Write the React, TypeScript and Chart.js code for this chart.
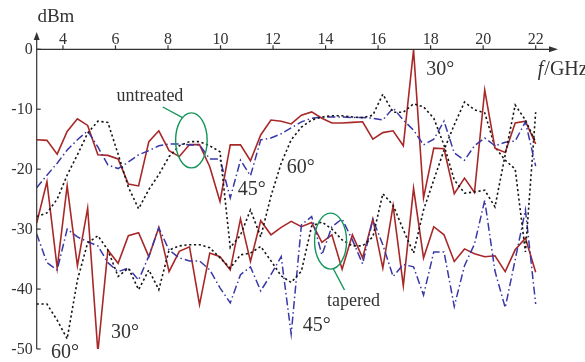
import React, { useEffect, useRef } from "react";
import { Chart, registerables } from "chart.js";

Chart.register(...registerables);

// Frequency grid (GHz)
const freqGHz = [
  3.0, 3.39, 3.78, 4.16, 4.55, 4.94, 5.33, 5.71, 6.1, 6.49,
  6.88, 7.27, 7.65, 8.04, 8.43, 8.82, 9.2, 9.59, 9.98, 10.37,
  10.76, 11.14, 11.53, 11.92, 12.31, 12.69, 13.08, 13.47, 13.86, 14.24,
  14.63, 15.02, 15.41, 15.8, 16.18, 16.57, 16.96, 17.35, 17.73, 18.12,
  18.51, 18.9, 19.29, 19.67, 20.06, 20.45, 20.84, 21.22, 21.61, 22.0,
];

// Untreated (upper group), dBm
const untreated30 = [
  -15.1, -15.2, -17.5, -13.7, -11.6, -12.7, -17.6, -17.7, -18.3, -22.5,
  -22.8, -15.4, -13.6, -16.9, -17.9, -15.9, -15.9, -19.6, -25.4, -15.95,
  -15.95, -18.6, -14.3, -11.8, -12.0, -12.45, -11.0, -10.45, -11.5, -12.3,
  -12.3, -12.2, -12.1, -15.0, -13.9, -13.6, -16.1, -0.1, -24.8, -16.5,
  -16.6, -24.1, -21.5, -23.9, -6.8, -16.5, -17.2, -12.3, -12.0, -15.8,
];
const untreated45 = [
  -23.1, -21.0, -19.0, -16.8, -15.1, -13.6, -16.3, -19.3, -19.9, -18.8,
  -17.6, -16.9, -16.1, -15.8, -15.8, -15.95, -15.95, -18.3, -18.3, -24.8,
  -18.5, -21.1, -15.1, -14.8, -14.1, -13.1, -12.1, -11.5, -11.3, -11.3,
  -11.3, -11.4, -11.4, -11.5, -11.8, -9.8, -11.8, -13.5, -15.95, -15.0,
  -12.0, -17.3, -18.5, -16.1, -14.8, -16.1, -15.5, -15.3, -12.1, -19.5,
];
const untreated60 = [
  -27.9, -27.3, -25.0, -21.0, -17.6, -14.0, -12.0, -12.2, -17.5, -23.0,
  -26.6, -23.4, -20.9, -17.9, -16.1, -15.4, -15.4, -16.1, -17.1, -33.1,
  -31.0, -26.8, -31.3, -24.5, -19.0, -15.1, -13.0, -11.8, -11.3, -11.1,
  -11.1, -11.3, -11.4, -11.0, -7.5, -10.5, -10.5, -9.1, -9.6, -11.5,
  -16.0, -21.8, -24.0, -23.8, -23.5, -26.3, -17.6, -9.3, -11.8, -15.5,
];

// Tapered (lower group), dBm
const tapered30 = [
  -29.0, -22.1, -36.5, -22.8, -36.1, -26.5, -50.5, -33.5, -35.7, -31.1,
  -30.6, -34.6, -29.7, -37.1, -33.7, -32.95, -42.6, -34.0, -34.6, -36.8,
  -28.3, -35.4, -28.6, -30.95, -29.7, -28.7, -29.6, -28.9, -32.2, -30.95,
  -36.7, -30.95, -34.8, -28.3, -36.5, -26.1, -39.45, -23.2, -34.8, -29.6,
  -30.95, -35.4, -33.3, -34.1, -34.6, -34.45, -37.1, -33.45, -31.5, -37.2,
];
const tapered45 = [
  -30.8, -35.6, -36.8, -30.0, -31.3, -32.1, -32.8, -35.6, -37.1, -36.5,
  -38.5, -34.5, -29.8, -33.5, -34.8, -35.3, -35.3, -36.8, -39.8, -42.3,
  -37.6, -36.3, -40.3, -37.6, -34.6, -47.5, -29.3, -27.9, -34.3, -29.6,
  -28.3, -31.8, -35.8, -28.4, -32.6, -37.9, -35.9, -36.3, -41.0, -33.8,
  -33.8, -42.9, -36.1, -32.5, -25.2, -37.0, -43.1, -35.1, -26.8, -42.5,
];
const tapered60 = [
  -42.5, -42.5, -45.2, -48.3, -38.5, -32.3, -31.1, -33.5, -37.9, -36.5,
  -40.1, -36.8, -40.1, -33.5, -32.8, -32.6, -32.6, -33.1, -34.8, -36.5,
  -34.3, -34.0, -32.9, -35.3, -37.8, -38.9, -37.0, -29.5, -28.8, -30.0,
  -31.8, -32.8, -32.8, -31.3, -24.1, -26.0, -30.1, -34.0, -26.8, -21.8,
  -16.8, -12.6, -8.8, -10.1, -10.6, -16.3, -18.5, -20.0, -33.8, -10.5,
];

// Axis ticks
const xTicks = [4, 6, 8, 10, 12, 14, 16, 18, 20, 22];
const yTicks = [0, -10, -20, -30, -40, -50];
const xMin = 3;
const xMax = 22.85;
const yMin = -50;
const yMax = 2.9;

// Annotation texts (in data coordinates)
const labelTexts = ["dBm", "untreated", "45°", "60°", "30°", "tapered", "45°", "30°", "60°"];
const labelF = [3.73, 7.31, 11.19, 13.05, 18.37, 15.06, 13.66, 6.36, 4.08];
const labelDb = [5.4, -7.8, -23.5, -19.8, -3.45, -42.0, -46.2, -47.3, -50.7];
const labelSize = [19, 18, 20, 20, 20, 18, 20, 20, 20];

// Green call-out ellipses: center f, center dB, half-width (GHz), half-height (dB)
const ellipseF = [8.89, 14.19];
const ellipseDb = [-15.2, -32.0];
const ellipseRf = [0.6, 0.61];
const ellipseRdb = [4.59, 4.67];
// Call-out leader lines
const leaderF1 = [7.8, 14.3];
const leaderDb1 = [-9.63, -36.66];
const leaderF2 = [8.57, 14.72];
const leaderDb2 = [-11.46, -40.16];

const SERIF = "'Liberation Serif', 'Times New Roman', serif";
const AXIS = "#333";

const decorPlugin = {
  id: "decor",
  afterDatasetsDraw(chart: any) {
    const ctx = chart.ctx as CanvasRenderingContext2D;
    const xs = chart.scales.x;
    const ys = chart.scales.y;
    const px = (v: number) => xs.getPixelForValue(v);
    const py = (v: number) => ys.getPixelForValue(v);
    ctx.save();
    ctx.strokeStyle = AXIS;
    ctx.fillStyle = AXIS;
    ctx.lineWidth = 1.2;
    const x0 = px(xMin);
    const y0 = py(0);
    const xEnd = px(xMax);
    const yTop = py(yMax);
    const yBot = py(yMin);
    // y axis
    ctx.beginPath();
    ctx.moveTo(x0, yBot);
    ctx.lineTo(x0, yTop + 6);
    ctx.stroke();
    ctx.beginPath();
    ctx.moveTo(x0, yTop);
    ctx.lineTo(x0 - 3, yTop + 8);
    ctx.lineTo(x0 + 3, yTop + 8);
    ctx.closePath();
    ctx.fill();
    // x axis (at 0 dBm, on top)
    ctx.beginPath();
    ctx.moveTo(x0, y0);
    ctx.lineTo(xEnd - 6, y0);
    ctx.stroke();
    ctx.beginPath();
    ctx.moveTo(xEnd, y0);
    ctx.lineTo(xEnd - 9, y0 - 3);
    ctx.lineTo(xEnd - 9, y0 + 3);
    ctx.closePath();
    ctx.fill();
    // x ticks and labels
    ctx.font = `16px ${SERIF}`;
    ctx.textAlign = "center";
    ctx.textBaseline = "alphabetic";
    xTicks.forEach((t) => {
      const x = px(t);
      ctx.beginPath();
      ctx.moveTo(x, y0);
      ctx.lineTo(x, y0 - 4);
      ctx.stroke();
      ctx.fillText(String(t), x, y0 - 5);
    });
    // y ticks and labels
    ctx.textAlign = "right";
    ctx.textBaseline = "middle";
    yTicks.forEach((t) => {
      const y = py(t);
      ctx.beginPath();
      ctx.moveTo(x0, y);
      ctx.lineTo(x0 + 4, y);
      ctx.stroke();
      ctx.fillText(String(t), x0 - 4, y + 1);
    });
    // f/GHz
    ctx.textAlign = "left";
    ctx.textBaseline = "middle";
    const fx = px(22.08);
    const fy = py(-3.45);
    ctx.font = `italic 20px ${SERIF}`;
    ctx.fillText("f", fx, fy);
    const fw = ctx.measureText("f").width;
    ctx.font = `20px ${SERIF}`;
    ctx.fillText("/GHz", fx + fw + 1, fy);
    // other labels
    ctx.textAlign = "center";
    labelTexts.forEach((t, i) => {
      ctx.font = `${labelSize[i]}px ${SERIF}`;
      ctx.fillText(t, px(labelF[i]), py(labelDb[i]));
    });
    // green call-outs
    ctx.strokeStyle = "#14965a";
    ctx.lineWidth = 1.4;
    ellipseF.forEach((f, i) => {
      const cx = px(f);
      const cy = py(ellipseDb[i]);
      const rx = Math.abs(px(f + ellipseRf[i]) - cx);
      const ry = Math.abs(py(ellipseDb[i] + ellipseRdb[i]) - cy);
      ctx.beginPath();
      ctx.ellipse(cx, cy, rx, ry, 0, 0, Math.PI * 2);
      ctx.stroke();
      ctx.beginPath();
      ctx.moveTo(px(leaderF1[i]), py(leaderDb1[i]));
      ctx.lineTo(px(leaderF2[i]), py(leaderDb2[i]));
      ctx.stroke();
    });
    ctx.restore();
  },
};

const pts = (arr: number[]) => freqGHz.map((f, i) => ({ x: f, y: arr[i] }));

const RED = "#a82828";
const BLUE = "#3838a8";
const BLACK = "#151515";

export default function App() {
  const ref = useRef<HTMLCanvasElement>(null);
  useEffect(() => {
    document.body.style.margin = "0";
    const canvas = ref.current;
    if (!canvas) return;
    const red = { borderColor: RED, borderWidth: 1.6 };
    const blue = { borderColor: BLUE, borderWidth: 1.5, borderDash: [8, 3, 1.5, 3] };
    const black = { borderColor: BLACK, borderWidth: 1.6, borderDash: [2.2, 2.6] };
    const chart = new Chart(canvas, {
      type: "line",
      data: {
        datasets: [
          { label: "untreated 60°", data: pts(untreated60), ...black },
          { label: "untreated 45°", data: pts(untreated45), ...blue },
          { label: "untreated 30°", data: pts(untreated30), ...red },
          { label: "tapered 60°", data: pts(tapered60), ...black },
          { label: "tapered 45°", data: pts(tapered45), ...blue },
          { label: "tapered 30°", data: pts(tapered30), ...red },
        ] as any,
      },
      options: {
        responsive: false,
        animation: false,
        layout: { padding: { left: 36.7, right: 27, top: 31.9, bottom: 13 } },
        scales: {
          x: { type: "linear", min: xMin, max: xMax, display: false },
          y: { type: "linear", min: yMin, max: yMax, display: false },
        },
        elements: { point: { radius: 0 }, line: { tension: 0, fill: false } },
        plugins: { legend: { display: false }, tooltip: { enabled: false } },
      },
      plugins: [decorPlugin],
    });
    return () => chart.destroy();
  }, []);
  return (
    <canvas ref={ref} width={585} height={362} style={{ display: "block", width: 585, height: 362 }} />
  );
}
